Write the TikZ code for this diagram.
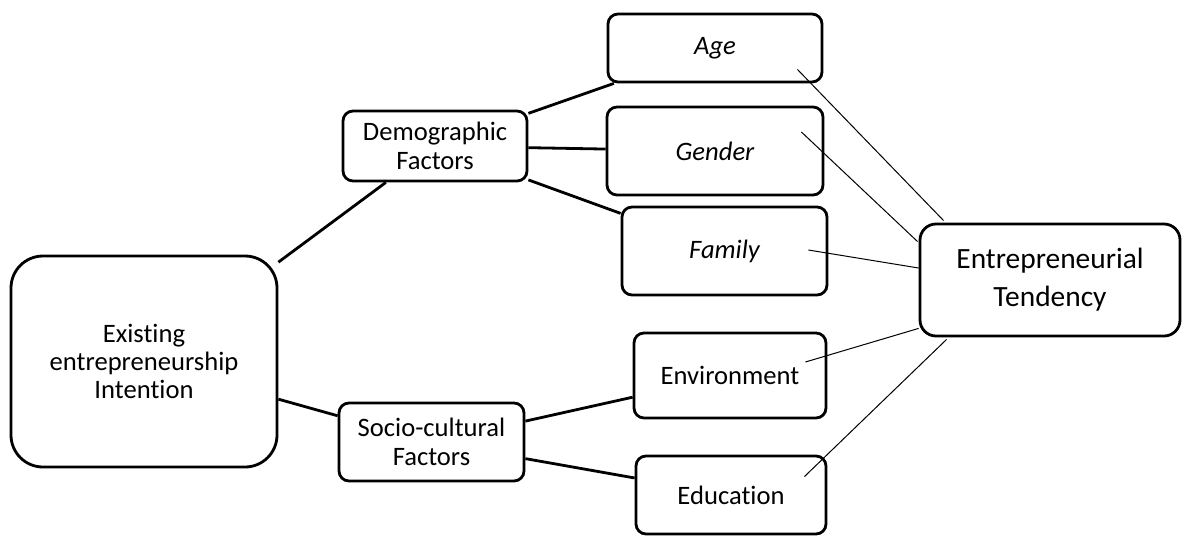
\documentclass[tikz,border=0pt]{standalone}
\usepackage{fontspec}
\setmainfont[Ligatures=NoCommon]{Carlito}
\begin{document}
\begin{tikzpicture}[x=0.5pt,y=-0.5pt,
  box/.style={draw,line width=1.4pt,rounded corners=5pt,align=center,inner sep=0pt,
    font=\fontsize{13.3}{14.5}\selectfont},
  link/.style={line width=1.4pt},
  thinlink/.style={line width=0.5pt}]
\useasboundingbox (0,0) rectangle (1182,537);
% boxes
\node[box,minimum width=133pt,minimum height=105.5pt,rounded corners=16pt,
  font=\fontsize{13.3}{14}\selectfont] (exist) at (144,361.5) {Existing\\entrepreneurship\\Intention};
\node[box,minimum width=92pt,minimum height=35pt] (demo) at (435,146) {Demographic\\Factors};
\node[box,minimum width=92.5pt,minimum height=39pt] (socio) at (431.5,442) {Socio-cultural\\Factors};
\node[box,minimum width=107pt,minimum height=34pt] (age) at (715,48) {\itshape Age};
\node[box,minimum width=108pt,minimum height=44pt] (gender) at (715,151) {\itshape Gender};
\node[box,minimum width=102.5pt,minimum height=44pt] (family) at (724.5,251) {\itshape Family};
\node[box,minimum width=96pt,minimum height=42.5pt] (env) at (730,375.5) {Environment};
\node[box,minimum width=95pt,minimum height=39pt] (edu) at (731,495) {Education};
\node[box,minimum width=130pt,minimum height=56pt,rounded corners=8pt,
  font=\fontsize{14.7}{19}\selectfont] (tend) at (1050,280) {Entrepreneurial\\Tendency};
% thick links
\draw[link] (exist) -- (demo);
\draw[link] (exist) -- (socio);
\draw[link] (demo) -- (age);
\draw[link] (demo) -- (gender);
\draw[link] (demo) -- (family);
\draw[link] (socio) -- (env);
\draw[link] (socio) -- (edu);
% thin links to the tendency box
\draw[thinlink] ([shift={(-26,-14)}]age.south east) -- ([shift={(25,-2)}]tend.north west);
\draw[thinlink] ([shift={(-23,-19)}]gender.east) -- ([shift={(-1,19)}]tend.north west);
\draw[thinlink] ([shift={(-20,-1)}]family.east) -- ([shift={(0,-12)}]tend.west);
\draw[thinlink] ([shift={(-22,-13.5)}]env.east) -- ([shift={(0,-9)}]tend.south west);
\draw[thinlink] ([shift={(-23,22)}]edu.north east) -- ([shift={(28,2)}]tend.south west);
\end{tikzpicture}
\end{document}
